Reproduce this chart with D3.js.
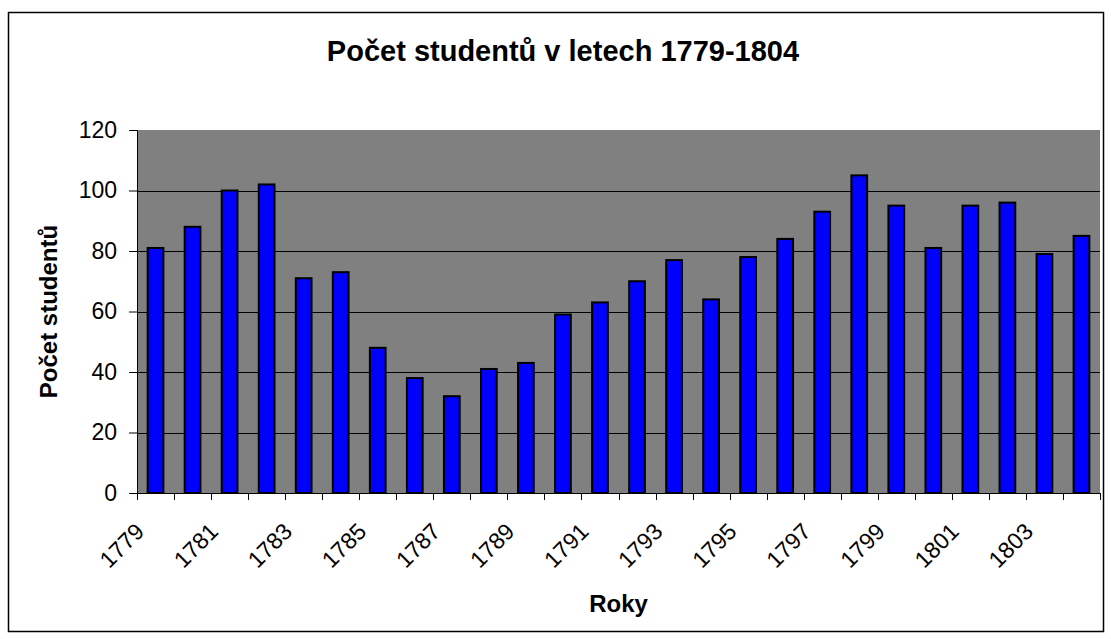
<!DOCTYPE html>
<html>
<head>
<meta charset="utf-8">
<script src="https://cdn.jsdelivr.net/npm/d3@7"></script>
<style>
  body { margin: 0; background: #fff; }
  svg { display: block; font-family: "Liberation Sans", Arial, sans-serif; }
</style>
</head>
<body>
<svg width="1111" height="639"></svg>
<script>
// data
var years = ["1779","1780","1781","1782","1783","1784","1785","1786","1787","1788","1789","1790","1791",
             "1792","1793","1794","1795","1796","1797","1798","1799","1800","1801","1802","1803","1804"];
var students = [81, 88, 100, 102, 71, 73, 48, 38, 32, 41, 43, 59, 63,
                70, 77, 64, 78, 84, 93, 105, 95, 81, 95, 96, 79, 85];
var yTicks = [0, 20, 40, 60, 80, 100, 120];
var title = "Počet studentů v letech 1779-1804";
var xTitle = "Roky";
var yTitle = "Počet studentů";

var svg = d3.select("svg");
var plotLeft = 137, plotRight = 1100, plotTop = 130, plotBottom = 493;

var xScale = d3.scaleBand().domain(years).range([plotLeft, plotRight]).paddingInner(0.575).paddingOuter(0.2875);
var yScale = d3.scaleLinear().domain([0, 120]).range([plotBottom, plotTop]);

// outer frame
svg.append("rect")
  .attr("x", 8.5).attr("y", 12.5)
  .attr("width", 1095).attr("height", 619)
  .style("fill", "none").style("stroke", "#000").style("stroke-width", 1.5);

// plot area
svg.append("rect")
  .attr("x", plotLeft).attr("y", plotTop)
  .attr("width", plotRight - plotLeft).attr("height", plotBottom - plotTop)
  .style("fill", "#808080");

// gridlines
svg.append("g")
  .selectAll("line")
  .data(yTicks.filter(function (d) { return d > 0 && d < 120; }))
  .enter()
  .append("line")
  .attr("x1", plotLeft).attr("x2", plotRight)
  .attr("y1", function (d) { return Math.round(yScale(d)) + 0.5; })
  .attr("y2", function (d) { return Math.round(yScale(d)) + 0.5; })
  .style("stroke", "#000").style("stroke-width", 1);

// bars
svg.append("g")
  .selectAll("rect")
  .data(students)
  .enter()
  .append("rect")
  .attr("x", function (d, i) { return xScale(years[i]); })
  .attr("y", function (d) { return yScale(d); })
  .attr("width", xScale.bandwidth())
  .attr("height", function (d) { return plotBottom - yScale(d); })
  .style("fill", "#0000ff")
  .style("stroke", "#000")
  .style("stroke-width", 2);

// y axis
var yAxis = svg.append("g")
  .attr("transform", "translate(" + plotLeft + ",0)")
  .call(d3.axisLeft(yScale).tickValues(yTicks).tickSize(8).tickPadding(12));
yAxis.select(".domain").style("stroke", "#000");
yAxis.selectAll("text").style("font-size", "23px").style("fill", "#000").attr("font-family", null);

// x axis: ticks at band edges
var step = xScale.step();
var edges = d3.range(years.length + 1).map(function (i) { return plotLeft + i * step; });
svg.append("line")
  .attr("x1", plotLeft).attr("x2", plotRight)
  .attr("y1", plotBottom + 0.5).attr("y2", plotBottom + 0.5)
  .style("stroke", "#000");
svg.append("g")
  .selectAll("line")
  .data(edges)
  .enter()
  .append("line")
  .attr("x1", function (d) { return Math.round(d) + 0.5; })
  .attr("x2", function (d) { return Math.round(d) + 0.5; })
  .attr("y1", plotBottom).attr("y2", plotBottom + 7)
  .style("stroke", "#000");

// x labels every second year
svg.append("g")
  .selectAll("text")
  .data(years.filter(function (d, i) { return i % 2 === 0; }))
  .enter()
  .append("text")
  .attr("transform", function (d) {
    var cx = xScale(d) + xScale.bandwidth() / 2 - 10;
    return "translate(" + cx + "," + 533 + ") rotate(-45)";
  })
  .attr("text-anchor", "end")
  .style("font-size", "23px")
  .text(function (d) { return d; });

// titles
svg.append("text")
  .attr("x", 563).attr("y", 61)
  .attr("text-anchor", "middle")
  .style("font-size", "29px").style("font-weight", "bold")
  .text(title);

svg.append("text")
  .attr("x", (plotLeft + plotRight) / 2).attr("y", 612)
  .attr("text-anchor", "middle")
  .style("font-size", "24px").style("font-weight", "bold")
  .text(xTitle);

svg.append("text")
  .attr("transform", "translate(57," + (plotTop + plotBottom) / 2 + ") rotate(-90)")
  .attr("text-anchor", "middle")
  .style("font-size", "24px").style("font-weight", "bold")
  .text(yTitle);
</script>
</body>
</html>
